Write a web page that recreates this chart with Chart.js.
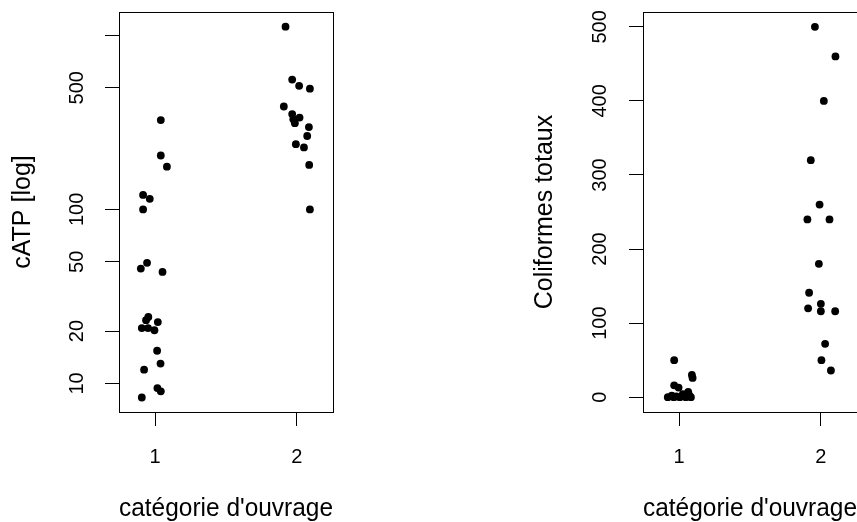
<!DOCTYPE html>
<html>
<head>
<meta charset="utf-8">
<script src="https://cdn.jsdelivr.net/npm/chart.js@4"></script>
<style>
  html, body { margin: 0; padding: 0; background: #fff; overflow: hidden; width: 857px; height: 522px; }
  .panel { position: absolute; top: 0; height: 522px; }
  #atpBox { left: 0; width: 428px; }
  #colBox { left: 428px; width: 440px; }
</style>
</head>
<body>
<div class="panel" id="atpBox"><canvas id="atpChart" width="428" height="522"></canvas></div>
<div class="panel" id="colBox"><canvas id="colChart" width="440" height="522"></canvas></div>
<script>
// categories (x tick labels)
const categories = [1, 2];

// cATP, jittered x position + value, per category
const atpJitter1 = [1.04, 1.04, 1.083, 0.915, 0.962, 0.915, 0.943, 0.899, 1.052, 0.952, 0.936, 1.019, 0.906, 0.95, 0.995, 1.014, 1.038, 0.922, 1.016, 1.04, 0.906];
const atpCat1    = [326, 204, 176, 121, 115, 100, 49.3, 45.7, 43.7, 24.1, 23.1, 22.5, 20.8, 20.8, 20.2, 15.4, 13.0, 12.0, 9.4, 9.0, 8.3];
const atpJitter2 = [1.92, 1.967, 2.016, 2.092, 1.908, 1.967, 2.019, 1.975, 1.986, 2.085, 2.073, 1.993, 2.05, 2.087, 2.092];
const atpCat2    = [1122, 557, 513, 494, 390, 353, 337, 330, 313, 297, 264, 237, 227, 180, 100];
const atpTicks   = [10, 20, 50, 100, 500, 1000];

// Coliformes totaux, jittered x position + value, per category
const colJitter1 = [0.965, 1.09, 1.095, 0.965, 0.996, 1.064, 1.026, 0.948, 0.92, 0.962, 1.005, 1.047, 1.083, 0.98, 1.07];
const colCat1    = [50, 30, 26, 16, 13, 7, 4, 2, 0, 0, 0, 0, 0, 1, 3];
const colJitter2 = [1.958, 2.103, 2.021, 1.929, 1.991, 1.905, 2.061, 1.986, 1.917, 1.91, 2.0, 2.0, 2.101, 2.03, 2.004, 2.071];
const colCat2    = [500, 460, 400, 320, 260, 240, 240, 180, 141, 120, 126, 116, 116, 72, 50, 36];
const colTicks   = [0, 100, 200, 300, 400, 500];

const FONT = "'Liberation Sans', Arial, Helvetica, sans-serif";

function toPoints(xs, ys) {
  return xs.map((x, i) => ({ x: x, y: ys[i] }));
}

// R style box around the plot region
const boxPlugin = {
  id: 'box',
  afterDraw(chart) {
    const a = chart.chartArea;
    const ctx = chart.ctx;
    ctx.save();
    ctx.strokeStyle = '#000';
    ctx.lineWidth = 1;
    ctx.strokeRect(Math.round(a.left) + 0.5, Math.round(a.top) + 0.5,
                   Math.round(a.right - a.left), Math.round(a.bottom - a.top));
    ctx.restore();
  }
};

function stripChart(id, points, yScale, yTitle, cfg) {
  const ctx = document.getElementById(id).getContext('2d');
  return new Chart(ctx, {
    type: 'scatter',
    data: {
      datasets: [{
        data: points,
        backgroundColor: '#000',
        borderWidth: 0,
        pointRadius: 3.9,
        pointHoverRadius: 3.9
      }]
    },
    options: {
      responsive: false,
      animation: false,
      layout: { padding: { left: 0, top: 12, right: cfg.padRight, bottom: 0 } },
      plugins: { legend: { display: false }, tooltip: { enabled: false } },
      scales: {
        x: {
          type: 'linear',
          min: 0.745,
          max: 2.255,
          bounds: 'data',
          afterBuildTicks: s => { s.ticks = categories.map(v => ({ value: v })); },
          afterFit: s => { s.height = 110; s.paddingLeft = 0; s.paddingRight = 0; },
          border: { display: false },
          grid: { drawOnChartArea: false, drawTicks: true, tickLength: 14, color: '#000', lineWidth: 1 },
          ticks: { color: '#000', padding: 19, font: { family: FONT, size: 20 }, autoSkip: false, maxRotation: 0 },
          title: { display: true, text: "catégorie d'ouvrage", color: '#000', font: { family: FONT, size: 25 }, padding: { top: 0, bottom: -2 } }
        },
        y: Object.assign({
          bounds: 'data',
          afterFit: s => { s.width = cfg.axisWidth; s.paddingTop = 0; s.paddingBottom = 0; },
          border: { display: false },
          grid: { drawOnChartArea: false, drawTicks: true, tickLength: 14, color: '#000', lineWidth: 1 },
          ticks: {
            color: '#000', padding: cfg.tickPad, font: { family: FONT, size: 20 },
            autoSkip: false, minRotation: 90, maxRotation: 90, crossAlign: 'center',
            callback: v => (yScale.hidden && yScale.hidden.includes(v)) ? '' : String(v)
          },
          title: { display: true, text: yTitle, color: '#000', font: { family: FONT, size: 25 }, padding: { top: cfg.titlePad, bottom: 0 } }
        }, yScale.opts)
      }
    },
    plugins: [boxPlugin]
  });
}

stripChart('atpChart',
  toPoints(atpJitter1, atpCat1).concat(toPoints(atpJitter2, atpCat2)),
  {
    hidden: [1000],
    opts: {
      type: 'logarithmic', min: 6.85, max: 1362,
      afterBuildTicks: s => { s.ticks = atpTicks.map(v => ({ value: v })); }
    }
  },
  'cATP [log]',
  { padRight: 95, axisWidth: 119, tickPad: 11, titlePad: 8 });

stripChart('colChart',
  toPoints(colJitter1, colCat1).concat(toPoints(colJitter2, colCat2)),
  {
    opts: {
      type: 'linear', min: -20, max: 520,
      afterBuildTicks: s => { s.ticks = colTicks.map(v => ({ value: v })); }
    }
  },
  'Coliformes totaux',
  { padRight: 11, axisWidth: 215, tickPad: 12, titlePad: 102 });
</script>
</body>
</html>
